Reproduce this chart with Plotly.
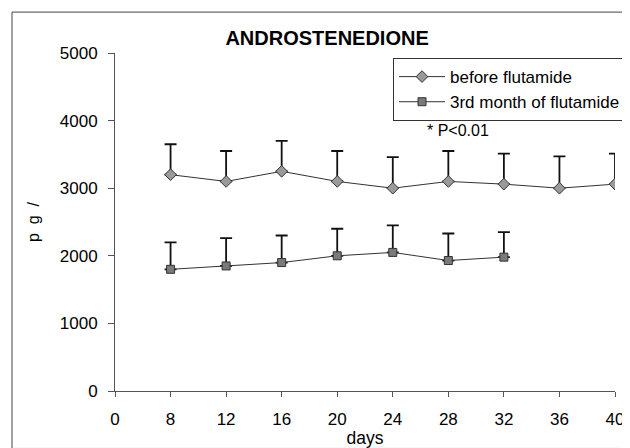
import plotly.graph_objects as go

# days on a category axis (equally spaced in the original)
day_labels = ["0", "8", "12", "16", "20", "24", "28", "32", "36", "40"]

before_days = ["8", "12", "16", "20", "24", "28", "32", "36", "40"]
before_mean = [3200, 3100, 3250, 3100, 3000, 3100, 3060, 3000, 3060]
before_sd = [450, 450, 450, 450, 460, 450, 450, 470, 450]

during_days = ["8", "12", "16", "20", "24", "28", "32"]
during_mean = [1800, 1850, 1900, 2000, 2050, 1930, 1980]
during_sd = [400, 410, 400, 400, 400, 400, 370]

FONT = "Arial, Liberation Sans, sans-serif"

fig = go.Figure()

fig.add_trace(go.Scatter(
    x=before_days, y=before_mean, name="before flutamide",
    mode="lines+markers",
    line=dict(color="#333333", width=1),
    marker=dict(symbol="diamond", size=9, color="#9a9a9a",
                line=dict(color="#333333", width=1)),
    error_y=dict(type="data", array=before_sd, arrayminus=[0] * len(before_sd),
                 symmetric=False, color="#111111", thickness=1.8, width=6),
))

fig.add_trace(go.Scatter(
    x=during_days, y=during_mean, name="3rd month of flutamide",
    mode="lines+markers",
    line=dict(color="#333333", width=1),
    marker=dict(symbol="square", size=8, color="#7a7a7a",
                line=dict(color="#333333", width=1)),
    error_y=dict(type="data", array=during_sd, arrayminus=[0] * len(during_sd),
                 symmetric=False, color="#111111", thickness=1.8, width=6),
))

# page body has an 8px margin, so the figure is 8px smaller than the window
fig.update_layout(
    width=622, height=440,
    margin=dict(l=107, r=15, t=45, b=57, autoexpand=False),
    paper_bgcolor="white", plot_bgcolor="white",
    font=dict(family=FONT, size=17, color="black"),
    title=dict(text="<b>ANDROSTENEDIONE</b>", x=0.513, xanchor="center",
               y=0.932, yanchor="middle", font=dict(size=20, color="black")),
    showlegend=True,
    legend=dict(x=0.556, xanchor="left", y=0.985, yanchor="top",
                bgcolor="white", bordercolor="#333333", borderwidth=1,
                font=dict(size=17), tracegroupgap=0, itemwidth=46),
    xaxis=dict(type="category", categoryorder="array", categoryarray=day_labels,
               tickmode="array", tickvals=day_labels, ticktext=day_labels,
               range=[0, 9], showgrid=False, zeroline=False, automargin=False,
               showline=True, linecolor="#555555", linewidth=1,
               ticks="outside", ticklen=5, tickcolor="#555555",
               ticklabelstandoff=8,
               title=dict(text="days", standoff=2, font=dict(size=17.5))),
    yaxis=dict(range=[0, 5000], tickvals=[0, 1000, 2000, 3000, 4000, 5000],
               showgrid=False, zeroline=False, automargin=False,
               showline=True, linecolor="#555555", linewidth=1,
               ticks="outside", ticklen=6, tickcolor="#555555",
               ticklabelstandoff=7,
               title=dict(text="p  g  /", standoff=16, font=dict(size=16))),
    annotations=[dict(text="* P<0.01", xref="paper", yref="paper",
                      x=0.62, y=0.77, xanchor="left", yanchor="middle",
                      showarrow=False, font=dict(size=16))],
    shapes=[dict(type="rect", xref="paper", yref="paper",
                 x0=-0.206, x1=1.026, y0=-0.17, y1=1.121,
                 line=dict(color="#444444", width=1))],
)

fig.write_html("out.html")
